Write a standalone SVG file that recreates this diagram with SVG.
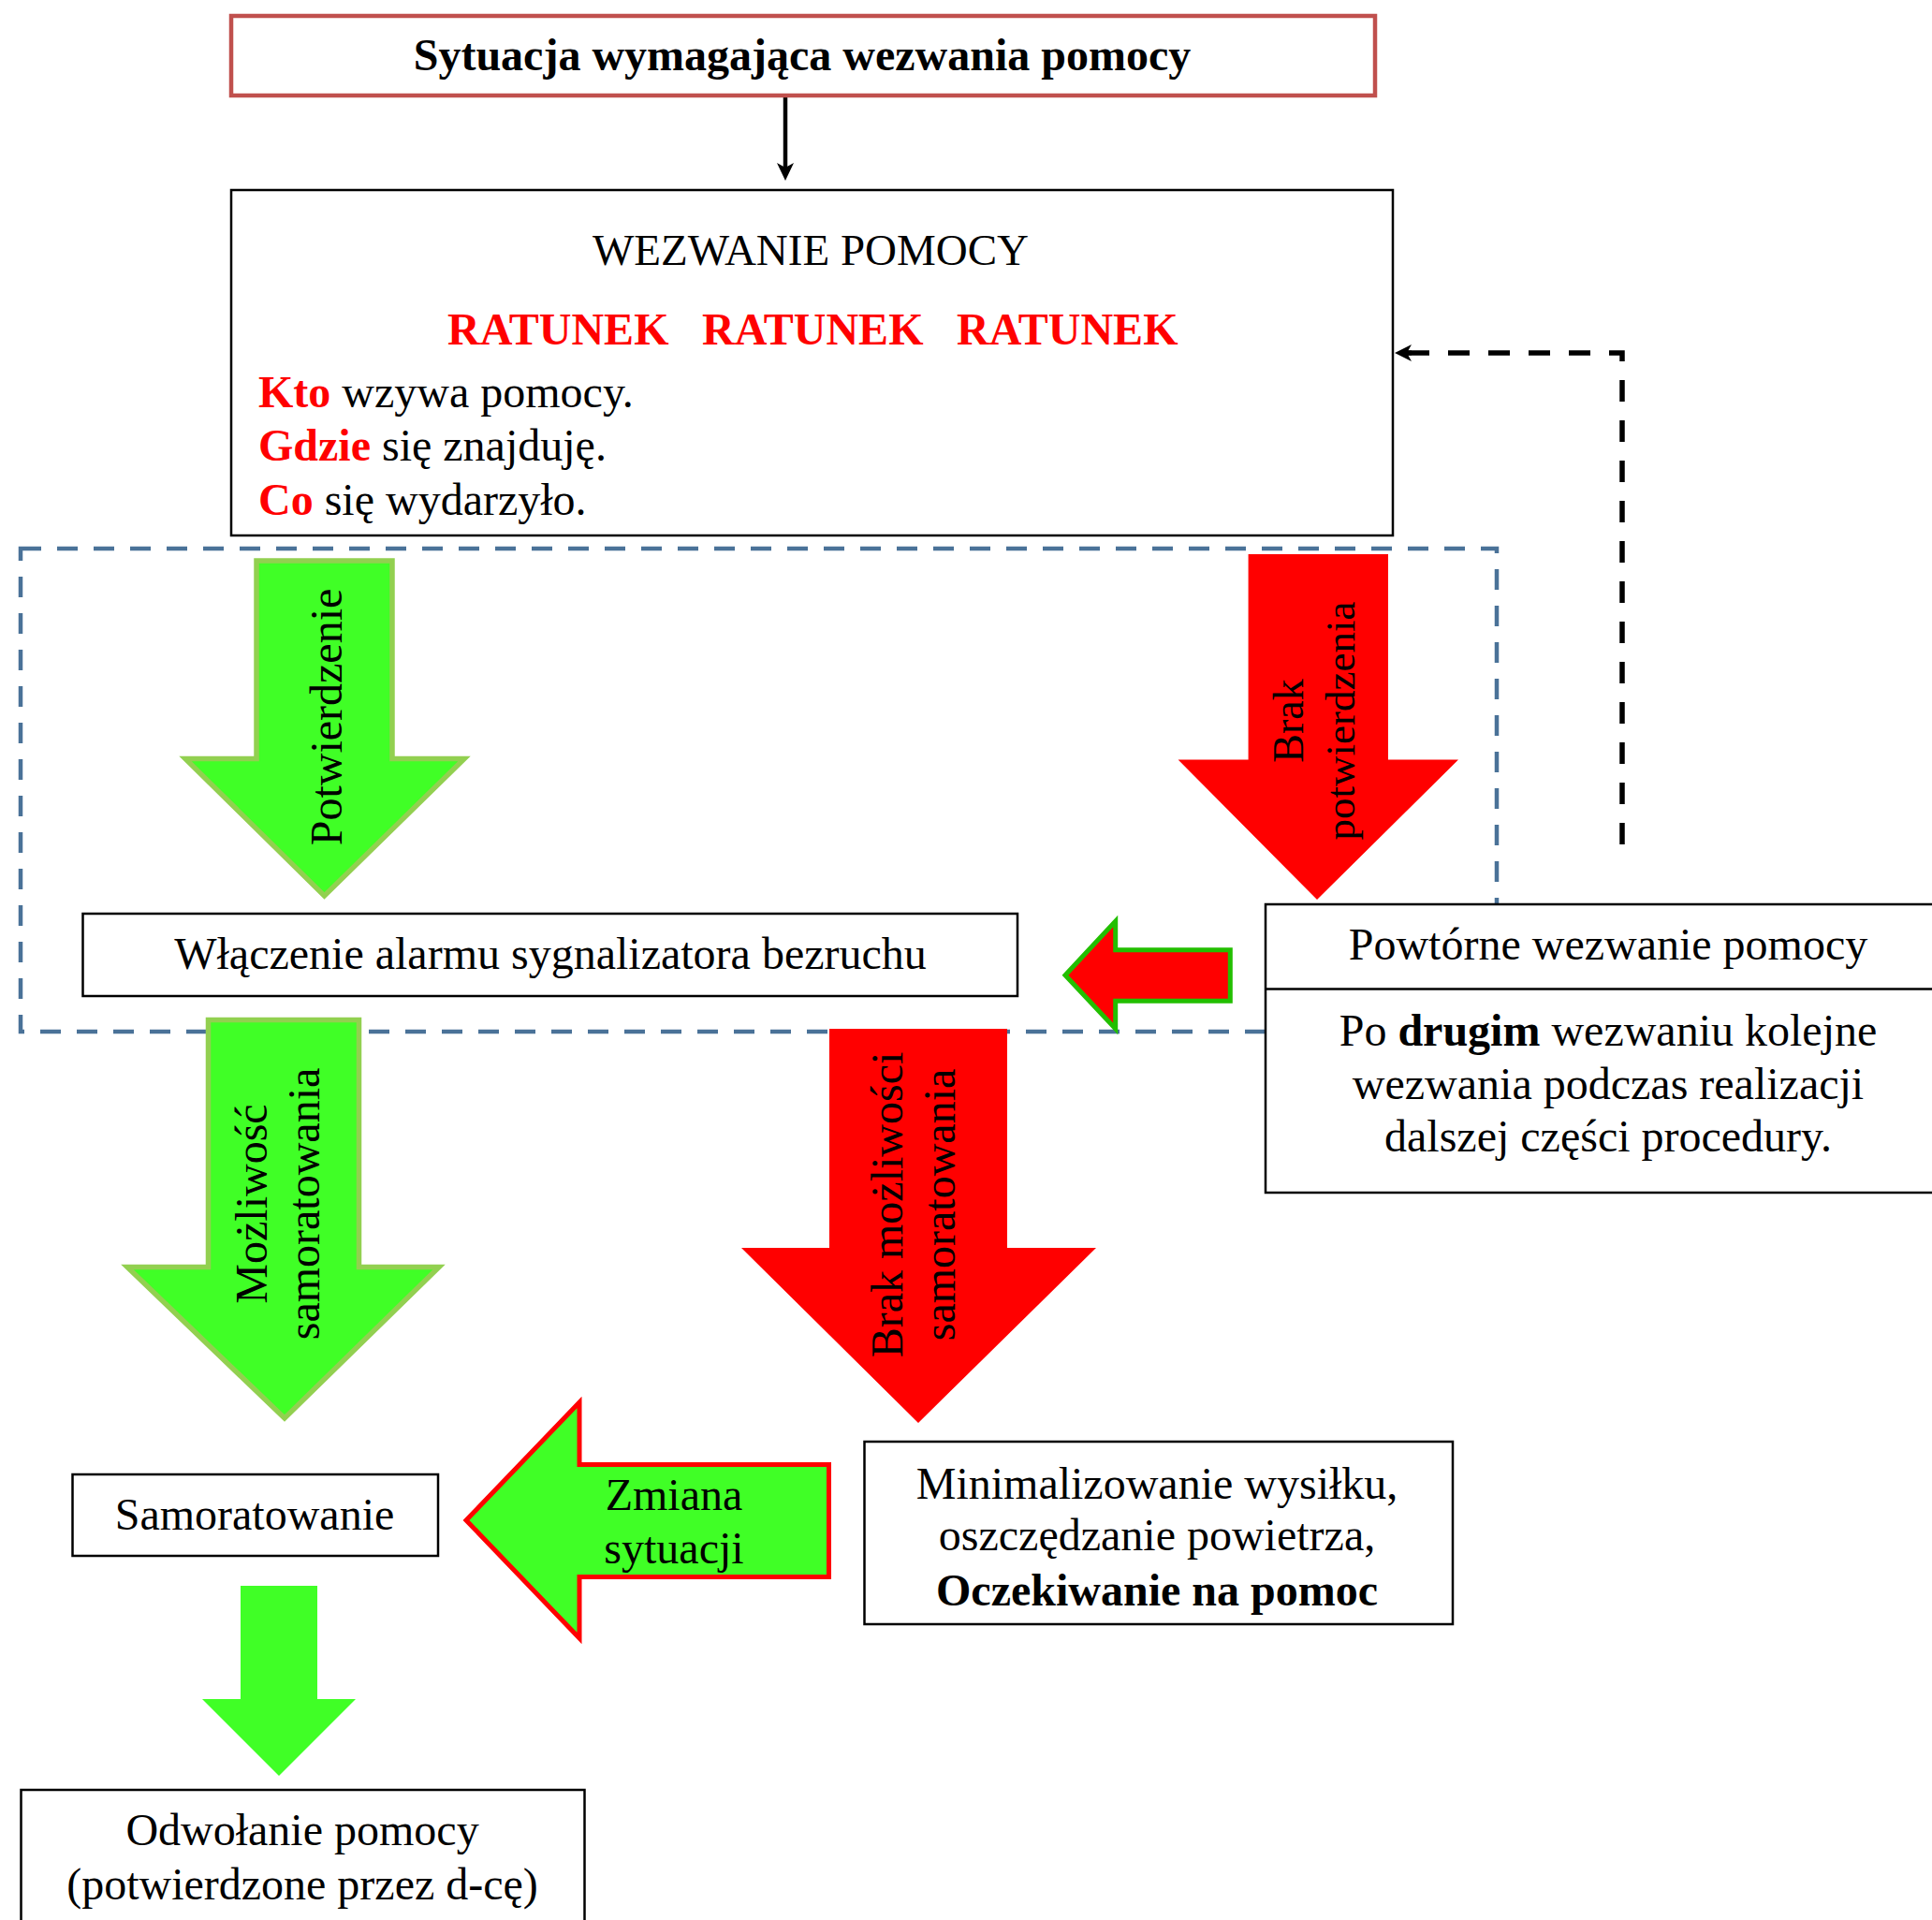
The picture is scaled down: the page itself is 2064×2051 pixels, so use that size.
<svg xmlns="http://www.w3.org/2000/svg" width="2064" height="2051" viewBox="0 0 2064 2051">
<style>
text{font-family:"Liberation Serif","Times New Roman",serif;font-size:48px;fill:#000}
.c{text-anchor:middle}
.b{font-weight:bold}
.r{fill:#FF0000}
.box{fill:#fff;stroke:#000;stroke-width:2.5}
.garrow{fill:#40FF26;stroke:#92D050;stroke-width:5.5;stroke-linejoin:miter}
.garrowp{fill:#40FF26}
.rarrow{fill:#FF0000}
</style>
<rect width="2064" height="2051" fill="#fff"/>
<g id="group-frame">
<rect x="22" y="586" width="1577" height="516" fill="none" stroke="#4A7298" stroke-width="4.5" stroke-dasharray="22 17"/>
</g>
<g id="connectors">
<line x1="839" y1="103" x2="839" y2="180" stroke="#000" stroke-width="4.5"/>
<path d="M839,193 L830,174 L839,179 L848,174 Z" fill="#000"/>
<path d="M1733,902 V377 H1500" fill="none" stroke="#000" stroke-width="5.5" stroke-dasharray="23 20"/>
<path d="M1490,377 L1508,368 L1503,377 L1508,386 Z" fill="#000"/>
<line x1="1500" y1="377" x2="1508" y2="377" stroke="#000" stroke-width="5"/>
</g>
<g id="node-sytuacja">
<rect x="247" y="17" width="1222" height="85" fill="#fff" stroke="#C0504D" stroke-width="4.5"/>
<text class="c b" x="857" y="75">Sytuacja wymagająca wezwania pomocy</text>
</g>
<g id="node-wezwanie">
<rect class="box" x="247" y="203" width="1241" height="369"/>
<text class="c" x="866" y="283" style="font-size:47px">WEZWANIE POMOCY</text>
<text class="b r" y="368"><tspan x="478">RATUNEK</tspan><tspan x="750">RATUNEK</tspan><tspan x="1022">RATUNEK</tspan></text>
<text x="276" y="435"><tspan class="b r">Kto</tspan> wzywa pomocy.</text>
<text x="276" y="492"><tspan class="b r">Gdzie</tspan> się znajduję.</text>
<text x="276" y="550"><tspan class="b r">Co</tspan> się wydarzyło.</text>
</g>
<g id="arrow-potwierdzenie">
<polygon class="garrow" points="274,599 419,599 419,810.5 496,810.5 346.5,957 198,810.5 274,810.5"/>
<text class="c" transform="translate(365,766) rotate(-90)">Potwierdzenie</text>
</g>
<g id="arrow-brak-potwierdzenia">
<polygon class="rarrow" points="1333.6,592 1483,592 1483,811.5 1558,811.5 1407,961 1258.6,811.5 1333.6,811.5"/>
<text class="c" transform="translate(1392,770) rotate(-90)" style="font-size:46px">Brak</text>
<text class="c" transform="translate(1447,770) rotate(-90)" style="font-size:45px">potwierdzenia</text>
</g>
<g id="node-wlaczenie">
<rect class="box" x="88.5" y="976" width="998.5" height="88"/>
<text class="c" x="588" y="1035">Włączenie alarmu sygnalizatora bezruchu</text>
</g>
<g id="arrow-back">
<polygon points="1138,1041.7 1191.7,984 1191.7,1014.7 1314.3,1014.7 1314.3,1069.3 1191.7,1069.3 1191.7,1099" fill="#FF0000" stroke="#22BF00" stroke-width="5"/>
</g>
<g id="node-powtorne">
<rect class="box" x="1352" y="966" width="732" height="308"/>
<line x1="1352" y1="1056.5" x2="2084" y2="1056.5" stroke="#000" stroke-width="2.5"/>
<text class="c" x="1718" y="1025">Powtórne wezwanie pomocy</text>
<text class="c" x="1718" y="1117">Po <tspan class="b">drugim</tspan> wezwaniu kolejne</text>
<text class="c" x="1718" y="1173.5">wezwania podczas realizacji</text>
<text class="c" x="1718" y="1230">dalszej części procedury.</text>
</g>
<g id="arrow-mozliwosc">
<polygon class="garrow" points="222.5,1089.5 383.5,1089.5 383.5,1353.5 469,1353.5 304,1515 136,1353.5 222.5,1353.5"/>
<text class="c" transform="translate(284.7,1286) rotate(-90)">Możliwość</text>
<text class="c" transform="translate(340.5,1286) rotate(-90)">samoratowania</text>
</g>
<g id="arrow-brak-mozliwosci">
<polygon class="rarrow" points="886,1099 1076,1099 1076,1333 1171,1333 981,1520 792,1333 886,1333"/>
<text class="c" transform="translate(964,1287) rotate(-90)">Brak możliwości</text>
<text class="c" transform="translate(1020,1287) rotate(-90)">samoratowania</text>
</g>
<g id="node-samoratowanie">
<rect class="box" x="77.5" y="1575" width="390.5" height="87"/>
<text class="c" x="272" y="1634">Samoratowanie</text>
</g>
<g id="arrow-zmiana">
<polygon points="498,1624 619,1498 619,1564.5 885.5,1564.5 885.5,1684.5 619,1684.5 619,1750" fill="#40FF26" stroke="#FF0000" stroke-width="5"/>
<text class="c" x="720" y="1613">Zmiana</text>
<text class="c" x="720" y="1670">sytuacji</text>
</g>
<g id="node-minimalizowanie">
<rect class="box" x="923.5" y="1540" width="628.5" height="195"/>
<text class="c" x="1236" y="1601">Minimalizowanie wysiłku,</text>
<text class="c" x="1236" y="1656">oszczędzanie powietrza,</text>
<text class="c b" x="1236" y="1715">Oczekiwanie na pomoc</text>
</g>
<g id="arrow-odwolanie">
<polygon class="garrowp" points="257,1694 339,1694 339,1815 380,1815 298,1897 216,1815 257,1815"/>
</g>
<g id="node-odwolanie">
<rect class="box" x="22.5" y="1912" width="602" height="160"/>
<text class="c" x="323" y="1971">Odwołanie pomocy</text>
<text class="c" x="323" y="2029">(potwierdzone przez d-cę)</text>
</g>
</svg>
